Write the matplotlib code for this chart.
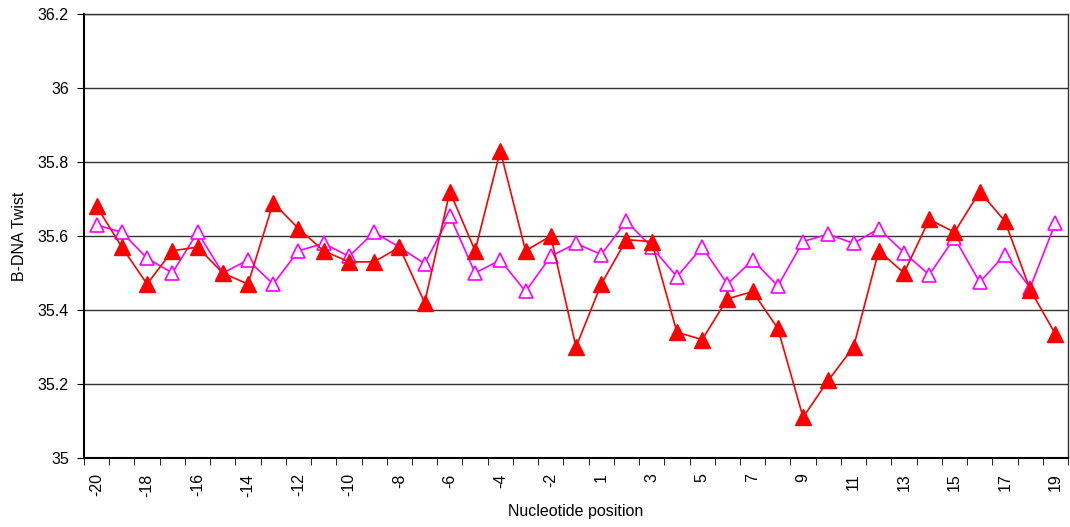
import matplotlib
matplotlib.use("Agg")
import matplotlib.pyplot as plt
import numpy as np

plt.rcParams['font.family'] = ['Liberation Sans', 'DejaVu Sans']

positions = list(range(-20, 0)) + list(range(1, 20))

red_twist = [35.68, 35.57, 35.47, 35.56, 35.57, 35.50, 35.47, 35.69, 35.62, 35.56,
             35.53, 35.53, 35.57, 35.42, 35.72, 35.56, 35.83, 35.56, 35.60, 35.30,
             35.47, 35.59, 35.585, 35.34, 35.32, 35.43, 35.45, 35.35, 35.11, 35.21,
             35.30, 35.56, 35.50, 35.645, 35.61, 35.72, 35.64, 35.455, 35.335]

magenta_twist = [35.63, 35.61, 35.54, 35.50, 35.61, 35.50, 35.535, 35.47, 35.56, 35.58,
                 35.545, 35.61, 35.57, 35.525, 35.655, 35.50, 35.535, 35.45, 35.545, 35.58,
                 35.55, 35.64, 35.57, 35.49, 35.57, 35.47, 35.535, 35.465, 35.585, 35.605,
                 35.58, 35.62, 35.555, 35.495, 35.595, 35.475, 35.55, 35.46, 35.635]

y_ticks = [35.0, 35.2, 35.4, 35.6, 35.8, 36.0, 36.2]
y_tick_labels = ["35", "35.2", "35.4", "35.6", "35.8", "36", "36.2"]

FS = 11.5

fig = plt.figure(figsize=(10.7, 5.27), dpi=100)
ax = fig.add_axes([84 / 1070, 69 / 527, (1068 - 84) / 1070, (458 - 14) / 527])

x = np.arange(len(positions))
ax.plot(x, magenta_twist, color='#FF00FF', lw=1.2, marker='^', markersize=10.5,
        markerfacecolor='white', markeredgecolor='#FF00FF', markeredgewidth=1.2, zorder=3)
ax.plot(x, red_twist, color='#FF0000', lw=1.2, marker='^', markersize=11,
        markerfacecolor='#FF0000', markeredgecolor='#FF0000', zorder=4)

ax.set_xlim(-0.5, len(positions) - 0.5)
ax.set_ylim(35.0, 36.2)
ax.set_yticks(y_ticks)
ax.set_yticklabels(y_tick_labels, fontsize=FS)
ax.yaxis.grid(True, color='#333333', lw=1.0)
ax.set_axisbelow(True)

label_idx = x[::2]
ax.set_xticks(label_idx)
ax.set_xticklabels([str(positions[i]) for i in label_idx], rotation=90, fontsize=FS)
ax.set_xticks(np.arange(-0.5, len(positions)), minor=True)
ax.tick_params(axis='x', which='major', length=0, pad=11)
ax.tick_params(axis='x', which='minor', length=5, direction='out', color='black')
ax.tick_params(axis='y', length=5, direction='out', color='black', pad=6)

for s in ['left', 'bottom']:
    ax.spines[s].set_linewidth(1.5)
    ax.spines[s].set_color('black')
for s in ['top', 'right']:
    ax.spines[s].set_linewidth(1.0)
    ax.spines[s].set_color('#333333')

ax.set_xlabel("Nucleotide position", fontsize=FS)
ax.set_ylabel("B-DNA Twist", fontsize=FS)
ax.xaxis.set_label_coords(0.5, -0.103)
ax.yaxis.set_label_coords(-0.058, 0.5)

fig.savefig("out.png", dpi=100)
